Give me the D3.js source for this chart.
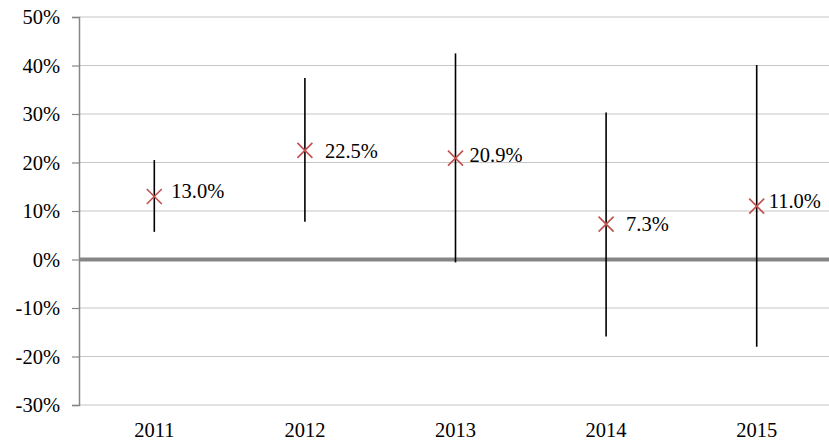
<!DOCTYPE html>
<html>
<head>
<meta charset="utf-8">
<script src="https://cdn.jsdelivr.net/npm/d3@7"></script>
<style>
  html, body { margin: 0; padding: 0; background: #fff; }
  svg { display: block; }
  text { font-family: "Liberation Serif", "Times New Roman", serif; fill: #000; }
</style>
</head>
<body>
<svg id="chart" width="829" height="442"></svg>
<script>
// Yearly estimates with their low/high range (percent)
const years = ["2011", "2012", "2013", "2014", "2015"];
const estimate = [13.0, 22.5, 20.9, 7.3, 11.0];
const low = [5.7, 7.8, -0.6, -15.9, -18.0];
const high = [20.5, 37.4, 42.5, 30.3, 40.1];
const yTicks = [-30, -20, -10, 0, 10, 20, 30, 40, 50];
// small per-label nudges [dx, dy] so the value labels sit clear of the bars
const labelShift = [[17, -6], [20, 0], [14, -3], [20, 0], [12, -5]];

const fontSize = 20.5;
const svg = d3.select("#chart");
const plotLeft = 79, plotRight = 832, plotTop = 17, plotBottom = 405;

const x = d3.scaleBand().domain(years).range([plotLeft, plotRight]);
const y = d3.scaleLinear().domain([-30, 50]).range([plotBottom, plotTop]);
const cx = d => x(d) + x.bandwidth() / 2;

// horizontal gridlines
svg.append("g")
  .selectAll("line")
  .data(yTicks.filter(t => t !== 0))
  .join("line")
  .attr("x1", plotLeft).attr("x2", 829)
  .attr("y1", d => y(d)).attr("y2", d => y(d))
  .attr("stroke", "#c6c6c6").attr("stroke-width", 1.2);

// left value axis
const yAxis = d3.axisLeft(y)
  .tickValues(yTicks)
  .tickFormat(d => d + "%")
  .tickSize(7)
  .tickPadding(12);
const gy = svg.append("g").attr("transform", `translate(${plotLeft},0)`).call(yAxis);
gy.select(".domain").attr("stroke", "#868686").attr("stroke-width", 1.5);
gy.selectAll(".tick line").attr("stroke", "#868686").attr("stroke-width", 1.2);
gy.selectAll(".tick text").attr("font-size", fontSize)
  .attr("font-family", "Liberation Serif, Times New Roman, serif").attr("fill", "#000");

// zero baseline
svg.append("line")
  .attr("x1", plotLeft).attr("x2", 829)
  .attr("y1", y(0)).attr("y2", y(0))
  .attr("stroke", "#868686").attr("stroke-width", 4);

// category labels along the bottom
const xAxis = d3.axisBottom(x).tickSize(0).tickPadding(17);
const gx = svg.append("g").attr("transform", `translate(0,${plotBottom})`).call(xAxis);
gx.select(".domain").remove();
gx.selectAll(".tick text").attr("font-size", fontSize)
  .attr("font-family", "Liberation Serif, Times New Roman, serif").attr("fill", "#000");

// range bars
svg.append("g")
  .selectAll("line")
  .data(years)
  .join("line")
  .attr("x1", d => cx(d)).attr("x2", d => cx(d))
  .attr("y1", (d, i) => y(high[i])).attr("y2", (d, i) => y(low[i]))
  .attr("stroke", "#000").attr("stroke-width", 1.6);

// estimate markers (x shapes)
const m = 7.5;
svg.append("g")
  .selectAll("path")
  .data(years)
  .join("path")
  .attr("d", (d, i) => {
    const px = cx(d), py = y(estimate[i]);
    return `M${px - m},${py - m}L${px + m},${py + m}M${px - m},${py + m}L${px + m},${py - m}`;
  })
  .attr("stroke", "#c0504d").attr("stroke-width", 1.6).attr("fill", "none");

// value labels
svg.append("g")
  .selectAll("text")
  .data(years)
  .join("text")
  .attr("x", (d, i) => cx(d) + labelShift[i][0])
  .attr("y", (d, i) => y(estimate[i]) + labelShift[i][1])
  .attr("dy", "0.35em")
  .attr("font-size", fontSize)
  .text((d, i) => estimate[i].toFixed(1) + "%");
</script>
</body>
</html>
